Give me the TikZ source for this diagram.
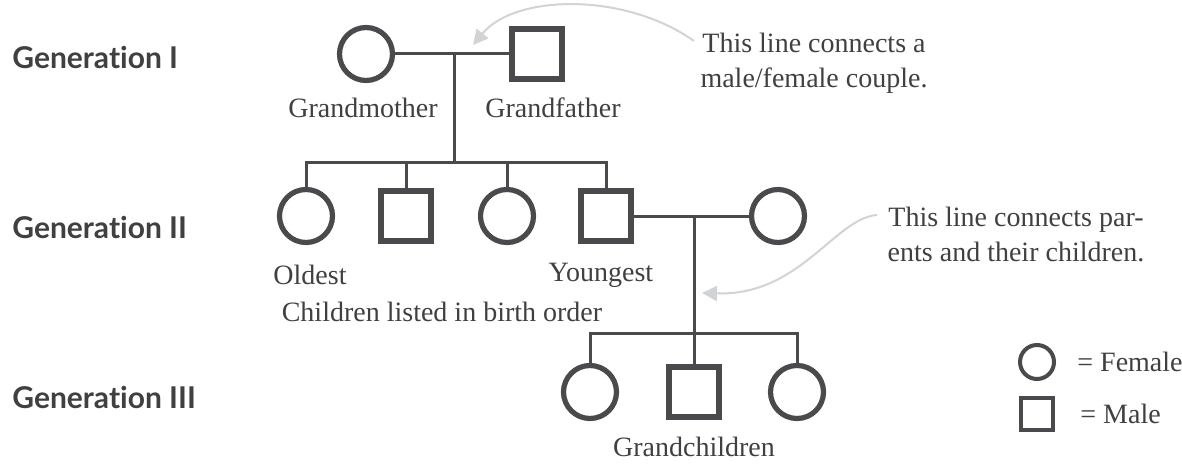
\documentclass[tikz,border=0pt]{standalone}
\usepackage{fontspec}
\setmainfont{Liberation Serif}
\newfontfamily\genfont[Ligatures=NoCommon]{Lato}
\usetikzlibrary{arrows.meta}
\definecolor{ink}{HTML}{4A4A4C}
\definecolor{hintgrey}{HTML}{D2D3D4}
\definecolor{txt}{HTML}{404040}

\begin{document}
\begin{tikzpicture}[
  x=0.5pt, y=-0.5pt,
  fem/.style={draw=ink, circle, line width=2.6pt, minimum size=26.5pt, inner sep=0pt},
  mal/.style={draw=ink, rectangle, line width=2.6pt, minimum size=25pt, inner sep=0pt},
  sfem/.style={fem, line width=2pt, minimum size=17pt},
  smal/.style={mal, line width=2pt, minimum size=16pt},
  link/.style={draw=ink, line width=1.5pt},
  hint/.style={draw=hintgrey, line width=1pt, -{Triangle[length=7.5pt, width=7.5pt]}},
  lbl/.style={font=\fontsize{14}{17.5}\selectfont, text=txt, inner sep=0pt},
  note/.style={lbl, align=center},
  gen/.style={font=\genfont\bfseries\fontsize{15}{18}\selectfont, text=txt,
              anchor=west, inner sep=0pt},
]
  \useasboundingbox (0,0) rectangle (1182,465);

  % Generation labels
  \node[gen] (gen1) at (12,57) {Generation I};
  \node[gen] (gen2) at (12,227) {Generation II};
  \node[gen] (gen3) at (12,397) {Generation III};

  % Grandparents
  \node[fem] (gm) at (366,54) {};
  \node[mal] (gf) at (537,54) {};
  \node[lbl] (gmlbl) at (363,108) {Grandmother};
  \node[lbl] (gflbl) at (553,108) {Grandfather};
  \coordinate (k1) at (454,54);
  \coordinate (bar1) at (454,162);

  \draw[link] (gm) -- (gf);
  \draw[link] (k1) -- (bar1);

  % Children
  \node[fem] (c1) at (306,216) {};
  \node[mal] (c2) at (406,216) {};
  \node[fem] (c3) at (507,216) {};
  \node[mal] (c4) at (606,216) {};
  \node[fem] (sp) at (778,216) {};

  \draw[link] (c1.north) |- (bar1) -| (c4.north);
  \draw[link] (c2.north) -- (c2 |- bar1);
  \draw[link] (c3.north) -- (c3 |- bar1);

  \node[lbl] (old) at (310,275) {Oldest};
  \node[lbl] (young) at (601,275) {Youngest};
  \node[lbl] (order) at (442,312) {Children listed in birth order};

  \coordinate (k2) at (694,216);
  \coordinate (bar2) at (694,333);
  \draw[link] (c4) -- (sp);

  % Grandchildren
  \node[fem] (g1) at (590,392) {};
  \node[mal] (g2) at (694,392) {};
  \node[fem] (g3) at (797,392) {};

  \draw[link] (k2) -- (g2.north);
  \draw[link] (g1.north) |- (bar2) -| (g3.north);
  \node[lbl] (gclbl) at (694,447) {Grandchildren};

  % Notes
  \node[note] (note1) at (814,63) {This line connects a\\male/female couple.};
  \node[note] (note2) at (1016,234) {This line connects par-\\ents and their children.};
  \coordinate (n1s) at (694,41);
  \coordinate (n1e) at (473,45);
  \coordinate (n2s) at (877,215);
  \coordinate (n2e) at (702,293);
  \draw[hint] (n1s) .. controls (625,-8) and (515,-6) .. (n1e);
  \draw[hint] (n2s) .. controls (835,218) and (800,296) .. (n2e);

  % Legend
  \node[sfem] (lf) at (1037,362) {};
  \node[smal] (lm) at (1037,414) {};
  \node[lbl, anchor=west] (lflbl) at (1077,362) {= Female};
  \node[lbl, anchor=west] (lmlbl) at (1080,414) {= Male};
\end{tikzpicture}
\end{document}
